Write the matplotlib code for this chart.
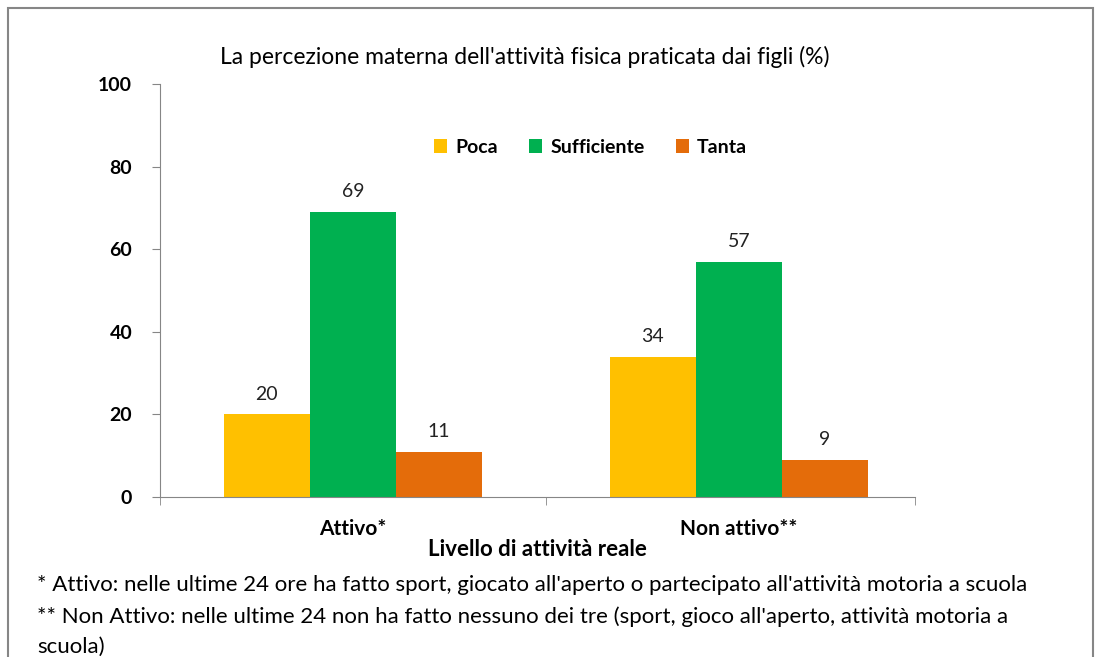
import matplotlib
matplotlib.use('Agg')
import matplotlib.pyplot as plt
from matplotlib.patches import Rectangle
import numpy as np

plt.rcParams['font.family'] = ['Lato', 'DejaVu Sans']

categories = ['Attivo*', 'Non attivo**']
series = ['Poca', 'Sufficiente', 'Tanta']
poca = [20, 34]
sufficiente = [69, 57]
tanta = [11, 9]
colors = ['#FFC000', '#00B050', '#E46C0A']

title = "La percezione materna dell'attività fisica praticata dai figli (%)"
xlabel = 'Livello di attività reale'
notes = ["* Attivo: nelle ultime 24 ore ha fatto sport, giocato all'aperto o partecipato all'attività motoria a scuola",
         "** Non Attivo: nelle ultime 24 non ha fatto nessuno dei tre (sport, gioco all'aperto, attività motoria a",
         "scuola)"]

fig = plt.figure(figsize=(11.01, 6.57), dpi=100)
ax = fig.add_axes([0.1453, 0.2435, 0.6858, 0.6286])

x = np.arange(len(categories))
w = 0.223
for i, (vals, name) in enumerate(zip([poca, sufficiente, tanta], series)):
    pos = x + (i - 1) * w
    ax.bar(pos, vals, w, color=colors[i], label=name)
    for p, v in zip(pos, vals):
        ax.text(p, v + 2.8, str(v), ha='center', va='bottom', fontsize=14, color='#222222')

ax.set_xlim(-0.5, 1.456)
ax.set_ylim(0, 100)
ax.set_yticks([0, 20, 40, 60, 80, 100])
ax.set_yticklabels(['0', '20', '40', '60', '80', '100'], fontweight='bold', fontsize=14)
ax.set_xticks(x)
ax.set_xticklabels(categories, fontweight='bold', fontsize=15)
ax.tick_params(axis='x', length=0, pad=16)
ax.set_xticks([-0.5, 0.5, 1.456], minor=True)
ax.tick_params(axis='x', which='minor', length=6, color='#868686', direction='out')
ax.tick_params(axis='y', length=6, color='#868686', direction='out', pad=14)
for s in ['top', 'right']:
    ax.spines[s].set_visible(False)
for s in ['left', 'bottom']:
    ax.spines[s].set_color('#868686')
ax.set_xlabel(xlabel, fontweight='bold', fontsize=16, labelpad=0)

ax.legend(loc='center', bbox_to_anchor=(0.57, 0.847), ncol=3, frameon=False,
          prop={'weight': 'bold', 'size': 14}, handlelength=0.7, handleheight=0.7,
          columnspacing=1.6, handletextpad=0.4)

fig.text(0.477, 0.913, title, ha='center', va='center', fontsize=16.5)
for i, line in enumerate(notes):
    fig.text(0.034, 0.109 - i * 0.047, line, ha='left', va='center', fontsize=16)

fig.add_artist(Rectangle((0.007, -0.05), 0.986, 1.038, transform=fig.transFigure,
                         fill=False, edgecolor='#868686', linewidth=1.5))

fig.savefig('out.png', dpi=100)
